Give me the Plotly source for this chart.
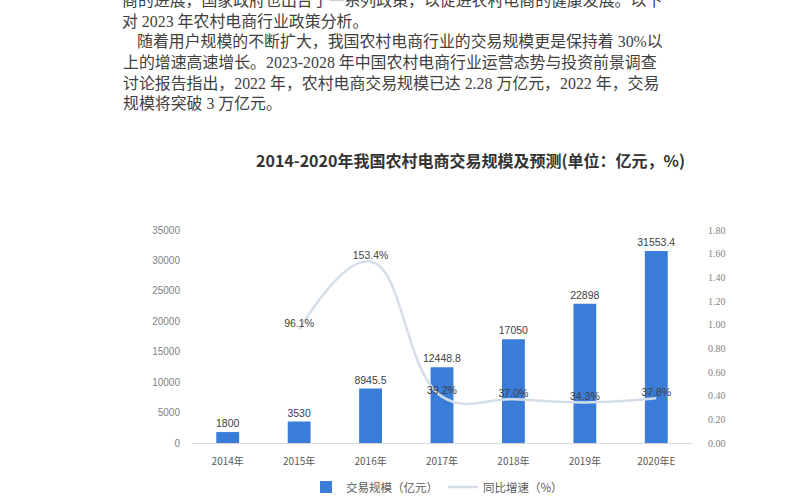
import plotly.graph_objects as go

# ---- data ----
years = ["2014年", "2015年", "2016年", "2017年", "2018年", "2019年", "2020年E"]
scale = [1800, 3530, 8945.5, 12448.8, 17050, 22898, 31553.4]          # 交易规模（亿元）
growth = [None, 0.961, 1.534, 0.392, 0.370, 0.343, 0.378]           # 同比增速
left_ticks = [0, 5000, 10000, 15000, 20000, 25000, 30000, 35000]
right_ticks = [0, 0.2, 0.4, 0.6, 0.8, 1.0, 1.2, 1.4, 1.6, 1.8]

chart_title = "2014-2020年我国农村电商交易规模及预测(单位：亿元，%)"
paragraphs = [
    "商的进展，国家政府也出台了一系列政策，以促进农村电商的健康发展。以下",
    "对 2023 年农村电商行业政策分析。",
    "随着用户规模的不断扩大，我国农村电商行业的交易规模更是保持着 30%以",
    "上的增速高速增长。2023-2028 年中国农村电商行业运营态势与投资前景调查",
    "讨论报告指出，2022 年，农村电商交易规模已达 2.28 万亿元，2022 年，交易",
    "规模将突破 3 万亿元。",
]

# ---- layout geometry (pixels) ----
W, H = 800, 500
L, R, T, B = 192, 692, 230, 443


def px(x):
    return (x - L) / (R - L)


def py(y):
    return (B - y) / (B - T)


fig = go.Figure()

fig.add_trace(go.Bar(
    x=years, y=scale, name="交易规模（亿元）",
    marker=dict(color="#3a7dd8", line=dict(width=0)),
    width=0.32,
    text=[f"{v:g}" for v in scale], textposition="outside",
    constraintext="none",
    textfont=dict(size=10.5, color="#404040", family="Liberation Sans, Noto Sans CJK SC"),
    cliponaxis=False,
))

fig.add_trace(go.Scatter(
    x=years, y=growth, name="同比增速（%）", yaxis="y2",
    mode="lines+text",
    line=dict(color="#d5dee8", width=2.5, shape="spline", smoothing=1.2),
    text=["" if g is None else f"{g*100:.1f}%" for g in growth],
    textposition="top center",
    textfont=dict(size=10.5, color="#404040", family="Liberation Sans, Noto Sans CJK SC"),
    connectgaps=False, cliponaxis=False,
))

annotations = [dict(
    text=f"<b>{chart_title}</b>", xref="paper", yref="paper",
    x=px(470), y=py(160), xanchor="center", yanchor="middle", showarrow=False,
    font=dict(size=16, color="#333333", family="Noto Sans CJK SC"),
)]

para_pos = [(120, 1), (120, 22), (135, 42), (121, 62), (121, 83), (121, 104)]
for txt, (x0, y0) in zip(paragraphs, para_pos):
    annotations.append(dict(
        text=txt, xref="paper", yref="paper", x=px(x0), y=py(y0),
        xanchor="left", yanchor="middle", showarrow=False,
        font=dict(size=15.9, color="#404040", family="Liberation Serif, Noto Sans CJK SC"),
    ))

fig.update_layout(
    width=W, height=H,
    margin=dict(l=L, r=W - R, t=T, b=H - B, pad=0, autoexpand=False),
    paper_bgcolor="white", plot_bgcolor="white",
    font=dict(family="Noto Sans CJK SC", color="#595959"),
    showlegend=True,
    legend=dict(orientation="h", x=px(437), xanchor="center", y=py(487), yanchor="middle",
                font=dict(size=11.5, color="#595959"), itemwidth=30,
                bgcolor="rgba(0,0,0,0)"),
    xaxis=dict(showline=True, linecolor="#d9d9d9", linewidth=1, ticks="",
               showgrid=False, tickfont=dict(size=10, color="#595959"),
               ticklabelstandoff=9, automargin=False),
    yaxis=dict(range=[0, 35000], tickvals=left_ticks, tickformat="d", showgrid=False,
               zeroline=False, showline=False, ticks="",
               tickfont=dict(size=10, color="#7f7f7f", family="Liberation Sans"),
               ticklabelstandoff=11, automargin=False),
    yaxis2=dict(range=[0, 1.8], tickvals=right_ticks, tickformat=".2f", overlaying="y",
                side="right", showgrid=False, zeroline=False, showline=False, ticks="",
                tickfont=dict(size=10, color="#7f7f7f", family="Liberation Serif"),
                ticklabelstandoff=15, automargin=False),
    annotations=annotations,
)

fig.write_html("out.html")
